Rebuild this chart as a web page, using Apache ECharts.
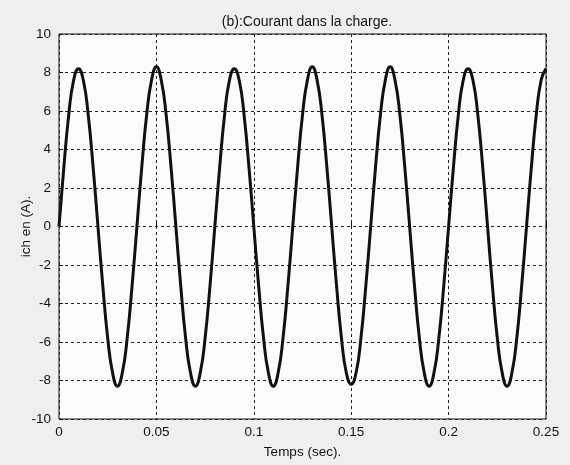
<!DOCTYPE html>
<html>
<head>
<meta charset="utf-8">
<script src="https://cdn.jsdelivr.net/npm/echarts@6/dist/echarts.min.js"></script>
<style>
html,body{margin:0;padding:0;background:#efefef;}
#c{width:570px;height:465px;}
</style>
</head>
<body>
<div id="c"></div>
<script>
const titleText = "(b):Courant dans la charge.";
const xName = "Temps (sec).";
const yName = "ich en (A).";
const xTicks = [0, 0.05, 0.1, 0.15, 0.2, 0.25];
const yTicks = [-10, -8, -6, -4, -2, 0, 2, 4, 6, 8, 10];

const timeSec = [
0, 0.0025, 0.005, 0.0075, 0.01, 0.0125, 0.015, 0.0175, 0.02, 0.0225, 0.025, 0.0275, 0.03, 0.0325, 0.035, 0.0375,
0.04, 0.0425, 0.045, 0.0475, 0.05, 0.0525, 0.055, 0.0575, 0.06, 0.0625, 0.065, 0.0675, 0.07, 0.0725, 0.075, 0.0775,
0.08, 0.0825, 0.085, 0.0875, 0.09, 0.0925, 0.095, 0.0975, 0.1, 0.1025, 0.105, 0.1075, 0.11, 0.1125, 0.115, 0.1175,
0.12, 0.1225, 0.125, 0.1275, 0.13, 0.1325, 0.135, 0.1375, 0.14, 0.1425, 0.145, 0.1475, 0.15, 0.1525, 0.155, 0.1575,
0.16, 0.1625, 0.165, 0.1675, 0.17, 0.1725, 0.175, 0.1775, 0.18, 0.1825, 0.185, 0.1875, 0.19, 0.1925, 0.195, 0.1975,
0.2, 0.2025, 0.205, 0.2075, 0.21, 0.2125, 0.215, 0.2175, 0.22, 0.2225, 0.225, 0.2275, 0.23, 0.2325, 0.235, 0.2375,
0.24, 0.2425, 0.245, 0.2475, 0.25
];
const ichA = [
0, 3.1, 5.8, 7.6, 8.2, 7.6, 5.8, 3.1, 0, -3.1, -5.8, -7.6, -8.3, -7.6, -5.8, -3.1,
0, 3.1, 5.8, 7.6, 8.3, 7.6, 5.8, 3.1, 0, -3.1, -5.8, -7.6, -8.3, -7.6, -5.8, -3.1,
0, 3.1, 5.8, 7.6, 8.2, 7.6, 5.8, 3.1, 0, -3.1, -5.8, -7.6, -8.3, -7.6, -5.8, -3.1,
0, 3.1, 5.8, 7.6, 8.3, 7.6, 5.8, 3.1, 0, -3.1, -5.8, -7.6, -8.2, -7.6, -5.8, -3.1,
0, 3.1, 5.8, 7.6, 8.3, 7.6, 5.8, 3.1, 0, -3.1, -5.8, -7.6, -8.3, -7.6, -5.8, -3.1,
0, 3.1, 5.8, 7.6, 8.2, 7.6, 5.8, 3.1, 0, -3.1, -5.8, -7.6, -8.3, -7.6, -5.8, -3.1,
0, 3.1, 5.8, 7.6, 8.2
];

const chart = echarts.init(document.getElementById('c'));
const font = 'Liberation Sans, Arial, sans-serif';
chart.setOption({
  animation: false,
  backgroundColor: '#efefef',
  title: {
    text: titleText, left: 302, top: 10, textAlign: 'center',
    textStyle: {fontFamily: font, fontSize: 14, fontWeight: 'normal', color: '#111'}
  },
  grid: {left: 59, right: 24, top: 34, bottom: 46, show: true, backgroundColor: '#fbfbfb', borderColor: '#111', borderWidth: 1},
  xAxis: {
    type: 'value', min: xTicks[0], max: xTicks[xTicks.length - 1], interval: 0.05,
    name: xName, nameLocation: 'middle', nameGap: 26,
    nameTextStyle: {fontFamily: font, fontSize: 13.5, color: '#111'},
    axisLine: {show: false},
    axisTick: {show: true, inside: true, length: 4, lineStyle: {color: '#111'}},
    axisLabel: {fontFamily: font, fontSize: 13.5, color: '#111', margin: 6},
    splitLine: {show: true, lineStyle: {color: '#222', type: [3, 3], width: 1}}
  },
  yAxis: {
    type: 'value', min: yTicks[0], max: yTicks[yTicks.length - 1], interval: 2,
    name: yName, nameLocation: 'middle', nameGap: 26, nameMoveOverlap: false,
    nameTextStyle: {fontFamily: font, fontSize: 13.5, color: '#111'},
    axisLine: {show: false},
    axisTick: {show: true, inside: true, length: 4, lineStyle: {color: '#111'}},
    axisLabel: {fontFamily: font, fontSize: 13.5, color: '#111', margin: 8},
    splitLine: {show: true, lineStyle: {color: '#222', type: [3, 3], width: 1}}
  },
  series: [{
    type: 'line', smooth: true, showSymbol: false,
    data: timeSec.map((t, i) => [t, ichA[i]]),
    lineStyle: {color: '#111', width: 3}
  }]
});
</script>
</body>
</html>
